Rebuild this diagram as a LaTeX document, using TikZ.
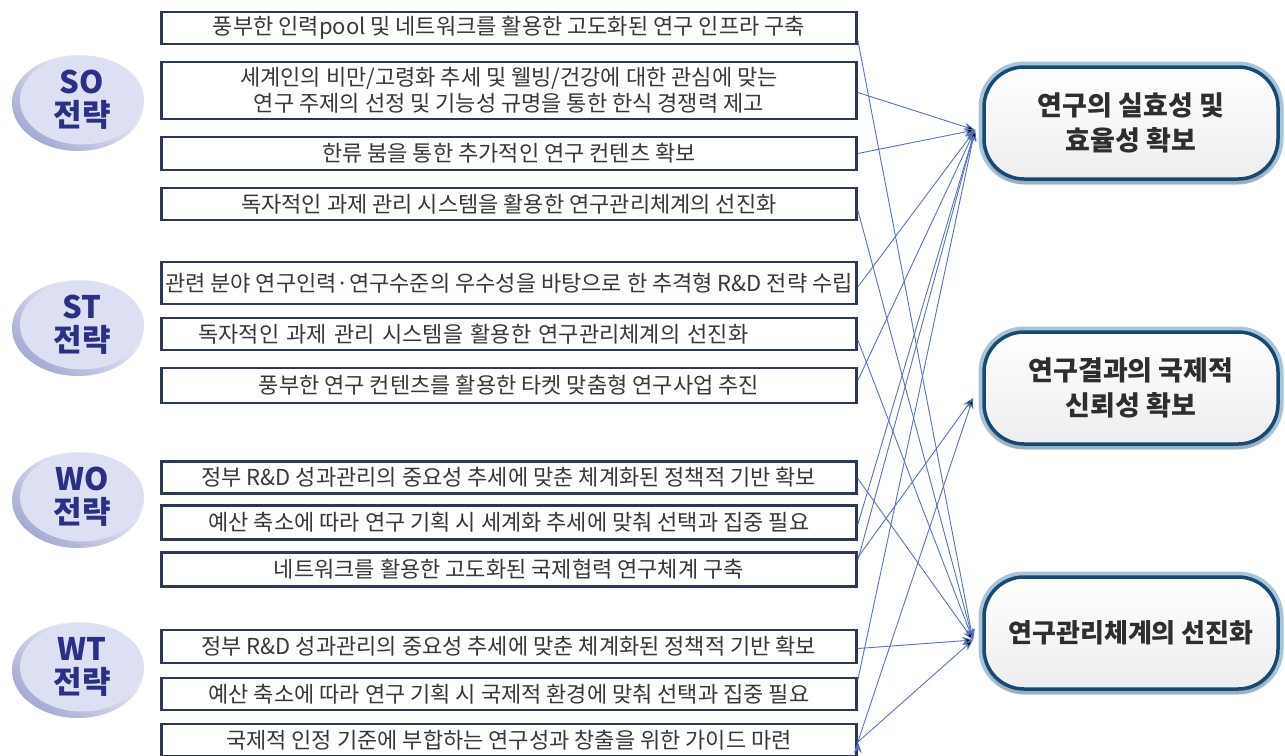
\documentclass[tikz,border=0pt]{standalone}
\usepackage{fontspec}
\newfontfamily\krfont{Noto Sans CJK KR}
\usepackage{xcolor}
\usepackage{tikz}
\usetikzlibrary{arrows.meta,shapes.geometric,shadows,calc}

\definecolor{boxline}{HTML}{2C3956}
\definecolor{boxtext}{HTML}{383838}
\definecolor{link}{HTML}{5574BE}
\definecolor{disctext}{HTML}{2B2F86}
\definecolor{discface}{HTML}{DCE0F2}
\definecolor{discrim}{HTML}{A4AAD2}
\definecolor{goalline}{HTML}{174A73}
\definecolor{goalrim}{HTML}{A9C4D8}
\definecolor{goaltext}{HTML}{2E2E2E}

\tikzset{
  sbox/.style={draw=boxline,line width=2.8pt,fill=white,anchor=west,
    minimum width=695pt,minimum height=32pt,inner sep=0pt,align=center,
    font=\krfont\fontsize{22}{26}\selectfont,text=boxtext},
  rim/.style={ellipse,minimum width=132pt,minimum height=96pt,
    top color=white,bottom color=discrim,shading angle=-40},
  face/.style={ellipse,minimum width=124pt,minimum height=89pt,inner sep=0pt,
    fill=discface,align=center,text=disctext,
    font=\krfont\bfseries\fontsize{31}{33}\selectfont},
  goal/.style={rounded corners=40pt,minimum width=294pt,minimum height=112pt,
    draw=goalline,line width=3.5pt,top color=white,bottom color=gray!14,
    preaction={draw=goalrim,line width=11pt},
    drop shadow={shadow xshift=0pt,shadow yshift=-5pt,opacity=0.3},
    align=center,text=goaltext,
    font=\krfont\bfseries\fontsize{27}{35}\selectfont},
  conn/.style={draw=link,line width=0.9pt,-{Stealth[length=11pt,width=8pt]}}
}

\begin{document}
\begin{tikzpicture}[x=1pt,y=-1pt]
\useasboundingbox[fill=white] (0,0) rectangle (1285,755);
% strategy discs
\node[rim] (so) at (78,103) {};
\node[face] (so face) at ($(so)+(4,-3)$) {SO\\전략};
\node[rim] (st) at (78,328) {};
\node[face] (st face) at ($(st)+(4,-3)$) {ST\\전략};
\node[rim] (wo) at (78,500) {};
\node[face] (wo face) at ($(wo)+(4,-3)$) {WO\\전략};
\node[rim] (wt) at (78,670) {};
\node[face] (wt face) at ($(wt)+(4,-3)$) {WT\\전략};
%
% SO boxes
\node[sbox] (b1) at (160,28) {풍부한 인력pool 및 네트워크를 활용한 고도화된 연구 인프라 구축};
\node[sbox,minimum height=57pt] (b2) at (160,90.5) {세계인의 비만/고령화 추세 및 웰빙/건강에 대한 관심에 맞는\\연구 주제의 선정 및 기능성 규명을 통한 한식 경쟁력 제고};
\node[sbox,minimum height=33pt] (b3) at (160,153.5) {한류 붐을 통한 추가적인 연구 컨텐츠 확보};
\node[sbox] (b4) at (160,204) {독자적인 과제 관리 시스템을 활용한 연구관리체계의 선진화};
% ST boxes
\node[sbox,minimum height=42pt] (b5) at (160,283) {관련 분야 연구인력·연구수준의 우수성을 바탕으로 한 추격형 R\&D 전략 수립};
\node[sbox,align=left,text width=621pt,inner xsep=37pt] (b6) at (160,334) {독자적인 과제 관리 시스템을 활용한 연구관리체계의 선진화};
\node[sbox,minimum height=35pt] (b7) at (160,385.5) {풍부한 연구 컨텐츠를 활용한 타켓 맞춤형 연구사업 추진};
% WO boxes
\node[sbox] (b8) at (160,477.5) {정부 R\&D 성과관리의 중요성 추세에 맞춘 체계화된 정책적 기반 확보};
\node[sbox,minimum height=34pt] (b9) at (160,522.5) {예산 축소에 따라 연구 기획 시 세계화 추세에 맞춰 선택과 집중 필요};
\node[sbox,minimum height=34pt] (b10) at (160,569.5) {네트워크를 활용한 고도화된 국제협력 연구체계 구축};
% WT boxes
\node[sbox,minimum height=33pt] (b11) at (160,646.5) {정부 R\&D 성과관리의 중요성 추세에 맞춘 체계화된 정책적 기반 확보};
\node[sbox] (b12) at (160,694) {예산 축소에 따라 연구 기획 시 국제적 환경에 맞춰 선택과 집중 필요};
\node[sbox] (b13) at (160,740) {국제적 인정 기준에 부합하는 연구성과 창출을 위한 가이드 마련};
%
% goals
\node[goal] (g1) at (1131,123) {연구의 실효성 및\\효율성 확보};
\node[goal] (g2) at (1131,388) {연구결과의 국제적\\신뢰성 확보};
\node[goal,font=\krfont\bfseries\fontsize{26}{35}\selectfont] (g3) at (1131,633) {연구관리체계의 선진화};
\coordinate (g1in) at (975,130);
\coordinate (g2in) at (973,398);
\coordinate (g3in) at (973,640);
%
\path[conn]
% to goal 1
([yshift=-2pt]b2.east) edge (g1in)
(b3.east) edge (g1in)
([yshift=-4pt]b5.east) edge (g1in)
([yshift=5pt]b7.east) edge (g1in)
([yshift=-2pt]b9.east) edge (g1in)
([yshift=9pt]b10.east) edge (g1in)
([yshift=14pt]b12.east) edge (g1in)
% to goal 2
([yshift=12pt]b10.east) edge (g2in)
([yshift=-2pt]b13.east) edge (g2in)
% to goal 3
([yshift=-12pt]b1.east) edge (g3in)
([yshift=-6pt]b4.east) edge (g3in)
([yshift=-6pt]b6.east) edge (g3in)
([yshift=-1pt]b8.east) edge (g3in)
([yshift=-2pt]b11.east) edge (g3in)
([yshift=-2pt]b13.east) edge (g3in);
\end{tikzpicture}
\end{document}
